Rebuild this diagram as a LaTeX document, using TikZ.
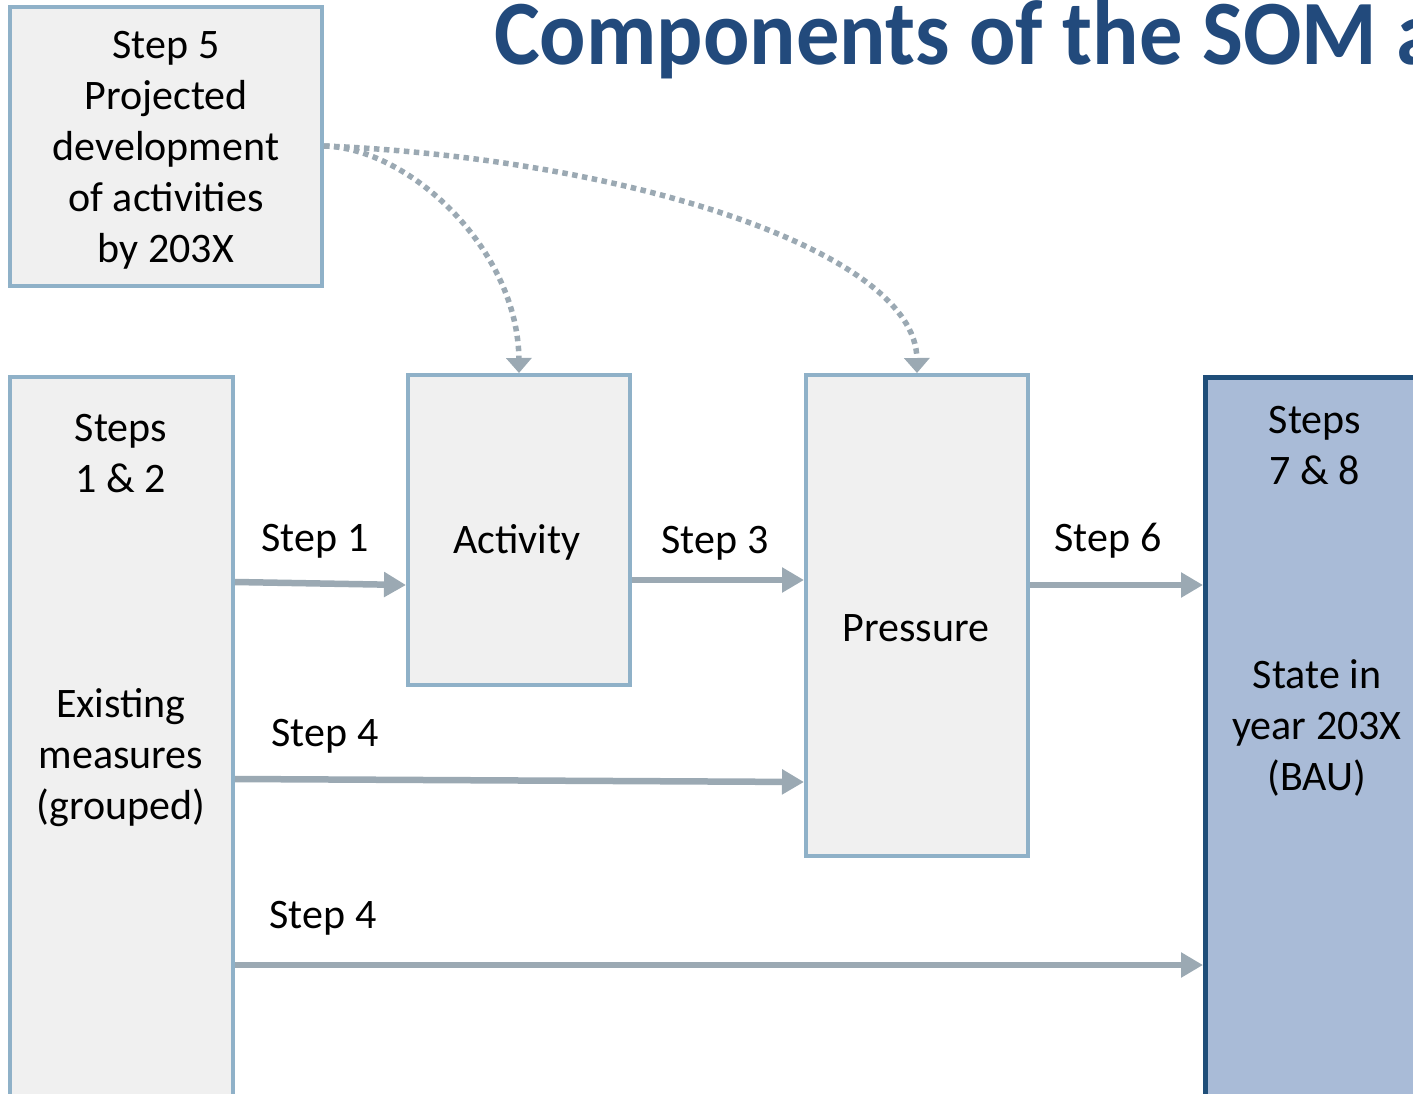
\documentclass[tikz,border=0pt]{standalone}
\usepackage{fontspec}
\setmainfont{Carlito}
\usetikzlibrary{arrows.meta}
\definecolor{boxline}{HTML}{8FB1C8}
\definecolor{boxfill}{HTML}{F0F0F0}
\definecolor{arrowgray}{HTML}{9BA9B3}
\definecolor{statefill}{HTML}{A9BBD7}
\definecolor{stateline}{HTML}{1F4E79}
\definecolor{titleblue}{HTML}{224A7C}
\begin{document}
\begin{tikzpicture}[x=1pt,y=-1pt,
  box/.style={draw=boxline, fill=boxfill, line width=4pt, inner sep=0pt},
  statebox/.style={draw=stateline, fill=statefill, line width=4.5pt, inner sep=0pt},
  txt/.style={font=\fontsize{42}{51}\selectfont, inner sep=0pt, align=center},
  lbl/.style={font=\fontsize{42}{51}\selectfont, inner sep=0pt, text height=27pt, text depth=0pt},
  arr/.style={draw=arrowgray, line width=6.5pt, -{Triangle[length=22pt,width=24pt]}},
  dotarr/.style={draw=arrowgray, line width=5.5pt, dash pattern=on 5.5pt off 4.5pt, -{Triangle[length=15pt,width=25pt]}}
]
\useasboundingbox (0,0) rectangle (1413,1094);
\clip (0,0) rectangle (1413,1094);

% title
\node[anchor=base west, inner sep=0pt, text=titleblue, font=\fontsize{92}{110}\selectfont\bfseries, xscale=0.94, transform shape] (title) at (494,65) {Components of the SOM a};

% boxes
\node[box, minimum width=312pt, minimum height=279pt] (s5) at (166,146.5) {};
\node[txt] (t5) at (166,150.5) {Step 5\\Projected\\development\\of activities\\by 203X};
\node[box, minimum width=223pt, minimum height=760pt, anchor=north] (meas) at (121.5,375) {};
\node[box, minimum width=222pt, minimum height=310pt] (act) at (519,530) {};
\node[box, minimum width=222pt, minimum height=481pt] (pres) at (917,615.5) {};
\node[statebox, minimum width=260pt, minimum height=760pt, anchor=north west] (state) at (1203,375) {};

% box texts
\node[txt] (t12) at (121,453.5) {Steps\\1 \& 2};
\node[txt] (texist) at (121,758) {Existing\\measures\\(grouped)};
\node[lbl] (tact) at (517,540) {Activity};
\node[lbl] (tpres) at (916,628) {Pressure};
\node[txt] (t78) at (1315,446) {Steps\\7 \& 8};
\node[txt] (tstate) at (1317,727.5) {State in\\year 203X\\(BAU)};

% arrow labels
\node[lbl] (l1) at (315,538) {Step 1};
\node[lbl] (l3) at (715,540) {Step 3};
\node[lbl] (l6) at (1108,538) {Step 6};
\node[lbl] (l4a) at (325,733) {Step 4};
\node[lbl] (l4b) at (323,915) {Step 4};

% arrows
\draw[arr] (meas.east |- 0,582) -- (act.west |- 0,585);
\draw[arr] (act.east |- 0,580) -- (pres.west |- 0,580);
\draw[arr] (pres.east |- 0,585) -- (state.west |- 0,585);
\draw[arr] (meas.east |- 0,779) -- (pres.west |- 0,782);
\draw[arr] (meas.east |- 0,965) -- (state.west |- 0,965);

% dotted arrows
\draw[dotarr] (s5.east |- 0,146) .. controls (410,148) and (518,250) .. (act.north);
\draw[dotarr] (s5.east |- 0,146) .. controls (620,158) and (916,250) .. (pres.north);
\end{tikzpicture}
\end{document}
